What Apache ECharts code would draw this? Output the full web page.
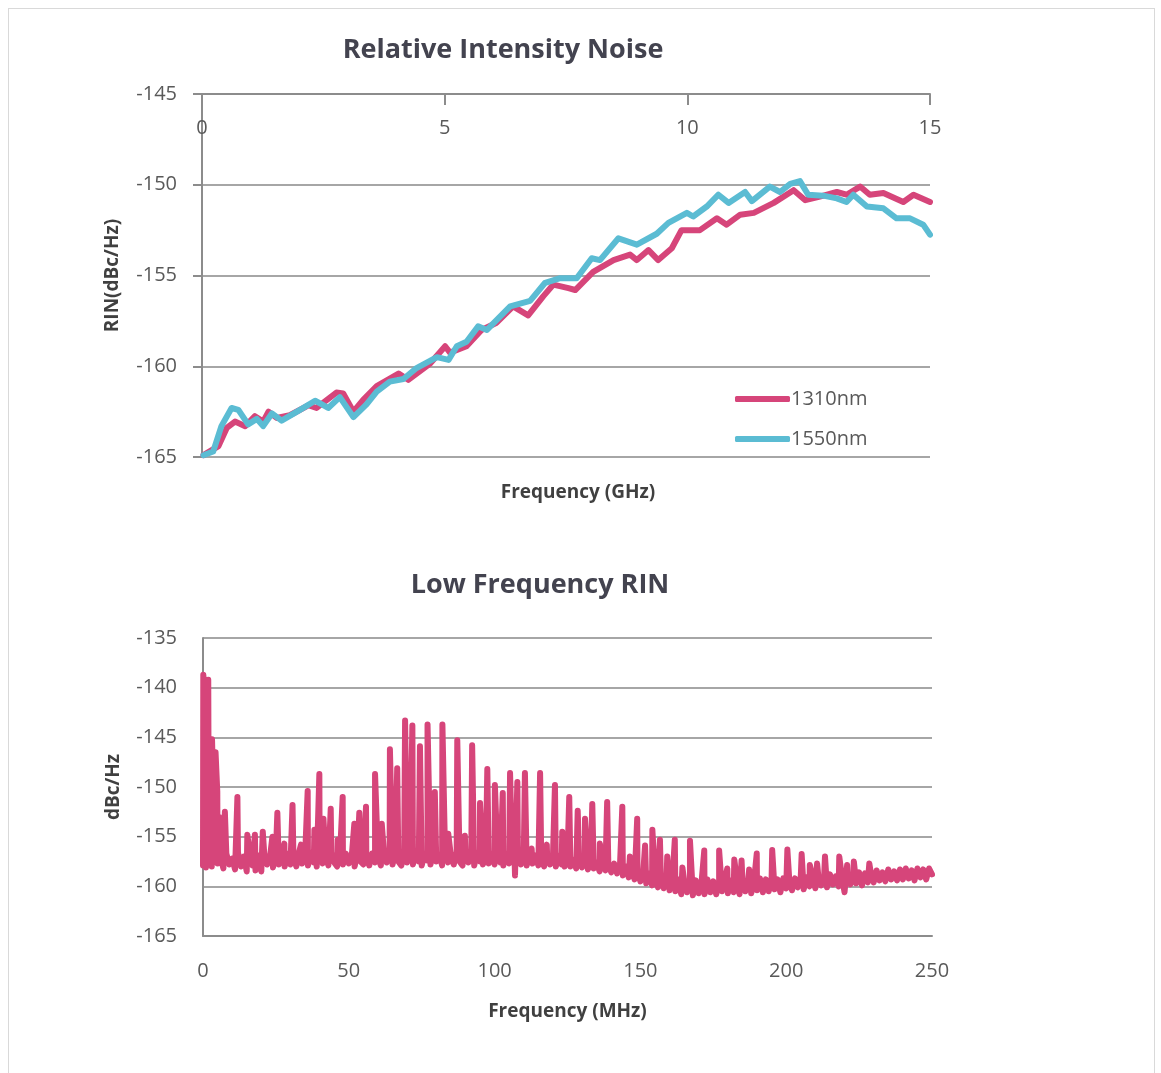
<!DOCTYPE html>
<html>
<head>
<meta charset="utf-8">
<script src="https://cdn.jsdelivr.net/npm/echarts@6/dist/echarts.min.js"></script>
<style>
html,body{margin:0;padding:0;background:#fff;}
#frame{position:absolute;left:8px;top:8px;width:1147px;height:1100px;border:1px solid #d9d9d9;box-sizing:border-box;}
#main{position:absolute;left:0;top:0;width:1161px;height:1073px;}
</style>
</head>
<body>
<div id="frame"></div>
<div id="main"></div>
<script>
// ---- Relative Intensity Noise (GHz) ----
const rin1310_f = [0.03,0.34,0.51,0.68,0.89,1.09,1.26,1.37,1.54,1.81,2.19,2.36,2.77,2.91,3.12,3.32,3.60,4.05,4.25,4.70,5.01,5.11,5.45,5.76,6.07,6.41,6.72,7.03,7.24,7.55,7.69,8.06,8.48,8.82,8.96,9.20,9.40,9.68,9.88,10.26,10.61,10.81,11.09,11.37,11.78,12.19,12.43,12.73,13.08,13.28,13.56,13.76,14.04,14.45,14.66,15.0];
const rin1310_v = [-164.9,-164.4,-163.4,-163.05,-163.3,-162.75,-163.05,-162.5,-162.85,-162.7,-162.15,-162.3,-161.45,-161.5,-162.5,-161.85,-161.1,-160.4,-160.75,-159.85,-158.9,-159.25,-158.9,-158.0,-157.6,-156.7,-157.2,-156.15,-155.5,-155.7,-155.8,-154.8,-154.15,-153.85,-154.15,-153.6,-154.15,-153.5,-152.5,-152.5,-151.85,-152.2,-151.65,-151.55,-151.0,-150.3,-150.85,-150.65,-150.4,-150.55,-150.1,-150.55,-150.45,-150.95,-150.55,-150.95];
const rin1550_f = [0.03,0.23,0.40,0.61,0.75,0.95,1.13,1.26,1.44,1.64,2.02,2.33,2.60,2.84,3.12,3.39,3.60,3.87,4.15,4.42,4.84,5.08,5.25,5.45,5.69,5.87,6.35,6.76,7.07,7.38,7.72,8.03,8.20,8.58,8.96,9.37,9.61,9.99,10.12,10.40,10.64,10.85,11.19,11.33,11.70,11.91,12.12,12.32,12.49,12.80,13.08,13.28,13.42,13.70,14.04,14.31,14.59,14.86,15.0];
const rin1550_v = [-164.9,-164.7,-163.3,-162.3,-162.4,-163.2,-162.9,-163.3,-162.6,-163.0,-162.4,-161.9,-162.3,-161.7,-162.8,-162.1,-161.4,-160.85,-160.7,-160.1,-159.5,-159.65,-158.9,-158.65,-157.8,-158.0,-156.7,-156.4,-155.4,-155.15,-155.15,-154.05,-154.15,-152.95,-153.3,-152.7,-152.1,-151.55,-151.75,-151.2,-150.55,-151.0,-150.4,-150.9,-150.1,-150.4,-149.95,-149.8,-150.55,-150.6,-150.75,-150.95,-150.55,-151.2,-151.3,-151.85,-151.85,-152.2,-152.75];
const rinXTicks = [0,5,10,15];
const rinYTicks = [-165,-160,-155,-150,-145];

// ---- Low Frequency RIN (MHz): noise floor, one value per MHz from 0 to 250 ----
const lfFloor = [
-157.9,-158.1,-157.4,-158.0,-156.7,-157.7,-157.1,-158.2,-156.7,-157.8,
-157.2,-158.3,-156.6,-158.0,-157.0,-158.5,-156.6,-157.9,-158.4,-156.9,
-158.5,-156.7,-157.8,-157.0,-158.1,-156.6,-157.8,-157.1,-158.0,-156.7,
-157.8,-156.9,-158.0,-156.5,-157.7,-157.0,-157.9,-156.6,-157.6,-158.0,
-156.7,-157.7,-156.9,-157.9,-156.6,-157.6,-158.0,-156.8,-157.8,-156.7,
-157.7,-157.0,-158.0,-156.6,-157.5,-157.8,-156.8,-157.9,-156.7,-157.6,
-157.0,-157.9,-156.4,-157.6,-156.8,-157.8,-156.5,-157.5,-157.9,-156.6,
-157.6,-156.8,-157.8,-156.4,-157.5,-157.9,-156.7,-157.4,-157.8,-156.5,
-157.5,-156.8,-157.9,-156.6,-157.6,-156.9,-157.8,-156.5,-157.5,-157.9,
-156.7,-157.6,-156.8,-157.9,-156.6,-157.5,-157.8,-156.8,-157.7,-156.7,
-157.8,-156.9,-157.6,-157.9,-156.7,-157.7,-157.0,-158.9,-156.8,-157.8,
-157.0,-157.9,-156.7,-157.7,-156.9,-157.9,-157.1,-158.0,-156.8,-157.8,
-157.1,-158.0,-156.9,-157.8,-158.0,-157.1,-158.0,-157.3,-158.2,-157.2,
-158.1,-157.4,-158.3,-157.3,-158.2,-157.6,-158.5,-157.5,-158.4,-157.7,
-158.6,-157.7,-158.7,-157.9,-158.9,-158.0,-159.1,-158.2,-159.3,-158.4,
-159.5,-158.5,-159.7,-158.7,-159.9,-158.9,-160.1,-159.0,-160.2,-159.1,
-160.4,-159.2,-160.5,-159.3,-160.8,-159.4,-160.6,-159.3,-160.9,-159.4,
-160.7,-159.5,-160.8,-159.3,-160.6,-159.5,-160.8,-159.4,-160.5,-159.3,
-160.7,-159.4,-160.6,-159.2,-160.8,-159.5,-160.5,-159.3,-160.7,-159.4,
-160.4,-159.2,-160.6,-159.3,-160.5,-159.1,-160.3,-159.3,-160.6,-159.2,
-160.2,-159.1,-160.4,-159.2,-160.1,-159.0,-160.3,-159.1,-160.0,-159.0,
-160.2,-158.9,-159.9,-159.1,-160.1,-158.8,-159.8,-159.0,-160.0,-158.8,
-160.6,-158.7,-159.8,-158.9,-159.7,-158.6,-159.9,-158.7,-159.6,-158.6,
-159.6,-158.4,-159.4,-158.6,-159.5,-158.3,-159.3,-158.5,-159.4,-158.3,
-159.3,-158.2,-159.2,-158.4,-159.4,-158.2,-159.1,-158.3,-159.3,-158.2,
-158.8];
// spurs: frequency (MHz) and peak level (dBc/Hz)
const lfSpurF = [0.1,0.7,1.2,1.8,2.4,3.1,3.7,4.3,4.9,5.5,7.5,11.8,15.2,17.8,20.5,23.8,25.5,27.9,30.7,33.6,35.9,38.2,39.9,41.3,43.8,46.2,47.9,51.9,53.6,55.9,59.0,61.3,64.1,66.6,69.3,71.8,74.4,77.0,79.5,82.1,84.1,87.2,89.8,92.3,95.0,97.5,100.1,102.8,105.3,106.4,107.8,110.4,112.7,115.6,117.9,120.7,123.2,125.6,128.5,131.0,133.5,136.1,138.6,143.8,146.4,148.9,151.6,154.1,156.7,159.2,161.8,164.4,167.0,171.9,177.0,179.8,182.2,184.7,187.3,189.9,195.2,200.4,205.3,208.1,210.6,213.3,218.2,220.9,223.2,228.5];
const lfSpurV = [-138.7,-140.5,-141.5,-139.2,-146.0,-145.2,-145.4,-146.5,-150.5,-153.0,-152.5,-151.0,-154.8,-154.8,-154.5,-155.0,-152.6,-155.7,-151.8,-155.8,-150.4,-154.3,-148.7,-153.2,-152.2,-155.3,-151.0,-153.7,-152.6,-152.0,-148.7,-153.7,-146.2,-148.1,-143.3,-143.8,-145.9,-143.7,-150.5,-143.7,-154.7,-145.3,-154.9,-145.8,-151.6,-148.2,-149.8,-150.6,-148.6,-152.1,-149.5,-148.6,-156.2,-148.6,-155.8,-149.8,-154.5,-151.0,-152.4,-153.2,-151.7,-155.7,-151.5,-152.0,-157.0,-153.2,-155.9,-154.3,-155.3,-157.0,-155.3,-158.1,-155.4,-156.4,-156.4,-158.2,-157.3,-157.4,-158.3,-156.7,-156.35,-156.3,-156.75,-157.85,-157.7,-157.0,-157.0,-157.85,-157.5,-157.7];
const lfXTicks = [0,50,100,150,200,250];
const lfYTicks = [-165,-160,-155,-150,-145,-140,-135];

const PINK = '#D6457A';
const CYAN = '#5BBCD3';
const GRID = '#a6a6a6';
const AXIS = '#8c8c8c';
const LABEL = '#595959';
const FONT = '"Open Sans", "Noto Sans", sans-serif';

const pairs = (fs, vs) => fs.map((f, i) => [f, vs[i]]);
const lfData = lfFloor.map((v, i) => [i, v])
  .concat(pairs(lfSpurF, lfSpurV))
  .sort((a, b) => a[0] - b[0]);

const chart = echarts.init(document.getElementById('main'), null, {renderer: 'canvas'});
const axisText = {color: LABEL, fontSize: 20, fontFamily: FONT};
const nameText = {color: '#404040', fontSize: 19, fontWeight: 'bold', fontFamily: FONT};
const titleText = {color: '#43434f', fontSize: 27, fontWeight: 'bold', fontFamily: FONT};

chart.setOption({
  animation: false,
  backgroundColor: 'transparent',
  title: [
    {text: 'Relative Intensity Noise', left: 498, top: 32, textAlign: 'center', textStyle: titleText},
    {text: 'Low Frequency RIN', left: 535, top: 567, textAlign: 'center', textStyle: titleText},
    {text: 'Frequency (GHz)', left: 573, top: 478, textAlign: 'center', textStyle: nameText}
  ],
  legend: {
    data: ['1310nm', '1550nm'],
    orient: 'vertical',
    left: 730, top: 384,
    itemWidth: 55, itemHeight: 6, itemGap: 20,
    icon: 'roundRect',
    textStyle: {color: LABEL, fontSize: 20, fontFamily: FONT, padding: [0, 0, 0, -4]}
  },
  grid: [
    {left: 202, top: 94, width: 728, height: 363},
    {left: 203, top: 638, width: 729, height: 298}
  ],
  xAxis: [
    {gridIndex: 0, type: 'value', position: 'top', min: 0, max: 15, interval: 5,
     axisLine: {lineStyle: {color: AXIS, width: 2}},
     axisTick: {show: true, inside: true, length: 11, lineStyle: {color: AXIS, width: 2}},
     axisLabel: Object.assign({inside: true, margin: 24}, axisText),
     splitLine: {show: false}},
    {gridIndex: 1, type: 'value', min: 0, max: 250, interval: 50,
     name: 'Frequency (MHz)', nameLocation: 'middle', nameGap: 66, nameTextStyle: nameText,
     axisLine: {lineStyle: {color: AXIS, width: 2}},
     axisTick: {show: false},
     axisLabel: Object.assign({margin: 25}, axisText),
     splitLine: {show: false}}
  ],
  yAxis: [
    {gridIndex: 0, type: 'value', min: -165, max: -145, interval: 5,
     name: 'RIN(dBc/Hz)', nameLocation: 'middle', nameGap: 80, nameRotate: 90, nameTextStyle: nameText,
     axisLine: {show: true, lineStyle: {color: AXIS, width: 2}},
     axisTick: {show: true, length: 9, lineStyle: {color: AXIS, width: 2}},
     axisLabel: Object.assign({margin: 25}, axisText),
     splitLine: {show: true, lineStyle: {color: GRID, width: 2}}},
    {gridIndex: 1, type: 'value', min: -165, max: -135, interval: 5,
     name: 'dBc/Hz', nameLocation: 'middle', nameGap: 80, nameRotate: 90, nameTextStyle: nameText,
     axisLine: {show: true, lineStyle: {color: AXIS, width: 2}},
     axisTick: {show: false},
     axisLabel: Object.assign({margin: 26}, axisText),
     splitLine: {show: true, lineStyle: {color: GRID, width: 2}}}
  ],
  series: [
    {name: '1310nm', type: 'line', xAxisIndex: 0, yAxisIndex: 0, data: pairs(rin1310_f, rin1310_v),
     showSymbol: false, symbol: 'none', color: PINK,
     lineStyle: {color: PINK, width: 6, cap: 'round', join: 'round'}},
    {name: '1550nm', type: 'line', xAxisIndex: 0, yAxisIndex: 0, data: pairs(rin1550_f, rin1550_v),
     showSymbol: false, symbol: 'none', color: CYAN,
     lineStyle: {color: CYAN, width: 6, cap: 'round', join: 'round'}},
    {name: 'LF RIN', type: 'line', xAxisIndex: 1, yAxisIndex: 1, data: lfData,
     showSymbol: false, symbol: 'none', color: PINK, clip: false,
     lineStyle: {color: PINK, width: 6, cap: 'round', join: 'round'}}
  ]
});
</script>
</body>
</html>
